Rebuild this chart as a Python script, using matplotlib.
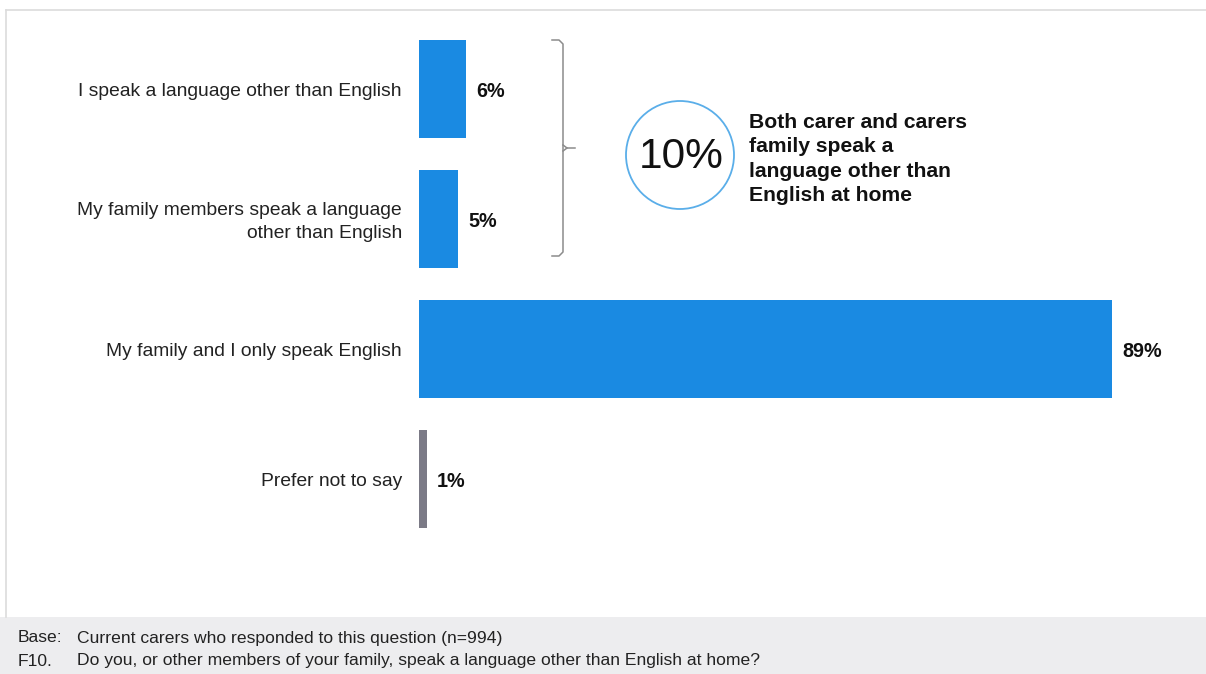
import matplotlib.pyplot as plt
import matplotlib.patches as mplpatches

plt.rcParams['font.family'] = ['Liberation Sans', 'DejaVu Sans']

# Survey answers, top to bottom
categories = ['I speak a language other than English',
              'My family members speak a language\nother than English',
              'My family and I only speak English',
              'Prefer not to say']
values = [6, 5, 89, 1]
barColors = ['#1a8ae2', '#1a8ae2', '#1a8ae2', '#7b7a86']
combinedValue = 10
combinedText = 'Both carer and carers\nfamily speak a\nlanguage other than\nEnglish at home'
baseNote = 'Current carers who responded to this question (n=994)'
questionNote = 'Do you, or other members of your family, speak a language other than English at home?'

figureWidth = 12.06
figureHeight = 6.74
fig = plt.figure(figsize=(figureWidth, figureHeight), dpi=100)

def px(x, y, w, h):
    # pixel box (from top-left) -> figure fraction
    return [x / 1206, 1 - (y + h) / 674, w / 1206, h / 674]

# outer frame and footer band
frame = fig.add_axes([0, 0, 1, 1])
frame.set_xlim(0, 1206)
frame.set_ylim(674, 0)
frame.axis('off')
frame.add_patch(mplpatches.Rectangle((0, 617), 1206, 57, facecolor='#ededef', edgecolor='none'))
frame.plot([6, 1206], [10, 10], color='#dcdcdc', linewidth=1.2)
frame.plot([6, 6], [10, 617], color='#dcdcdc', linewidth=1.2)
footFont = 12.6
frame.text(18, 638, 'Base:', fontsize=footFont, va='center', color='#222222')
frame.text(77, 638, baseNote, fontsize=footFont, va='center', color='#222222')
frame.text(18, 661, 'F10.', fontsize=footFont, va='center', color='#222222')
frame.text(77, 661, questionNote, fontsize=footFont, va='center', color='#222222')

# bracket over the first two bars
frame.plot([552, 559, 563, 563, 559, 552], [40, 40, 44, 252, 256, 256], color='#8c8c8c', linewidth=1.1)
frame.plot([563, 567, 575], [145, 148, 148], color='#8c8c8c', linewidth=1.1)
frame.plot([563, 567], [151, 148], color='#8c8c8c', linewidth=1.1)

# circle callout
frame.add_patch(mplpatches.Circle((680, 155), 54, facecolor='white', edgecolor='#5aaee9', linewidth=1.3))
frame.text(681, 157, f'{combinedValue}%', fontsize=30.5, ha='center', va='center', color='#111111')
frame.text(749, 159, combinedText, fontsize=15.2, fontweight='bold', ha='left', va='center',
           linespacing=1.37, color='#111111')

# bar panel
panel = fig.add_axes(px(419, 24, 779, 520))
positions = list(range(len(categories)))
panel.barh(positions, values, height=0.754, color=barColors)
panel.set_xlim(0, 100)
panel.set_ylim(3.5, -0.5)
panel.axis('off')
for pos, val, cat in zip(positions, values, categories):
    panel.text(val + 1.3, pos + 0.02, f'{val}%', fontsize=14.2, fontweight='bold', va='center', color='#111111')
    panel.text(-2.2, pos + 0.02, cat, fontsize=13.9, ha='right', va='center', linespacing=1.45, color='#222222')

plt.savefig('out.png', dpi=100)
